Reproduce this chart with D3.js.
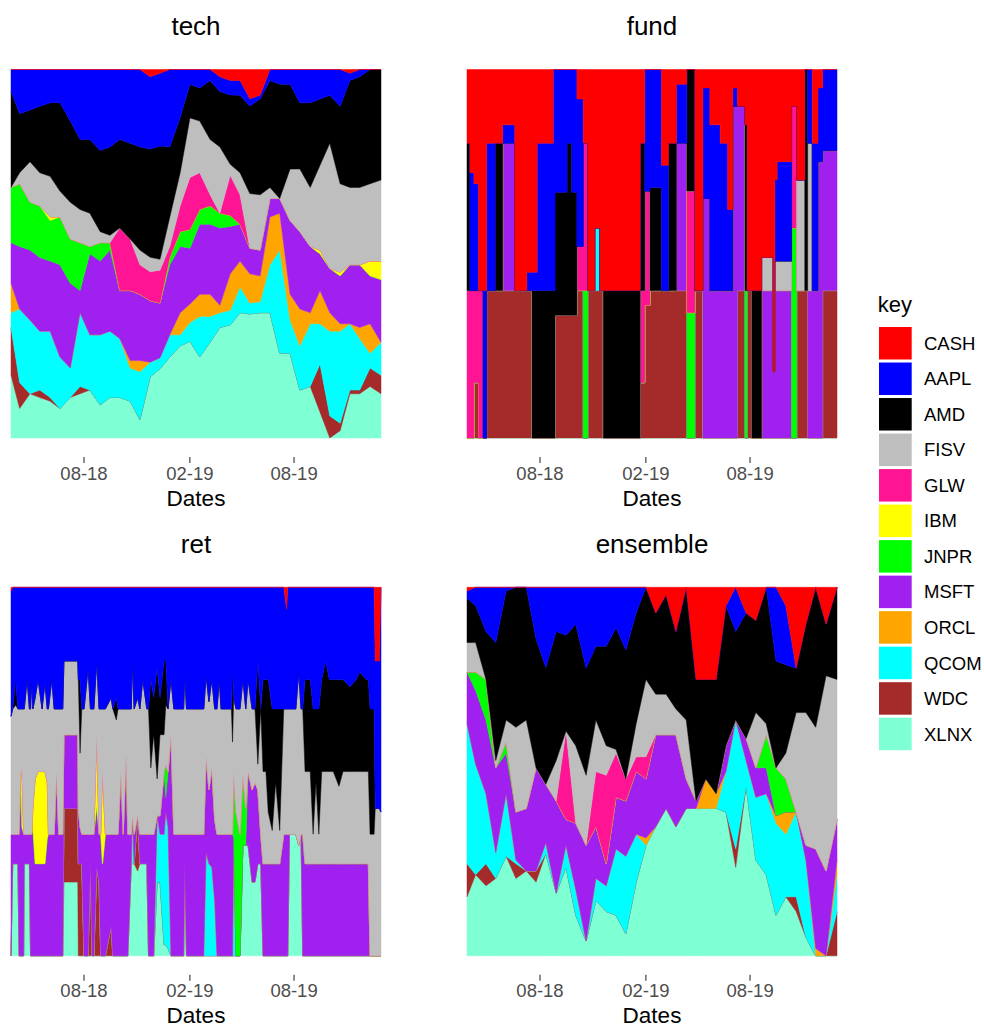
<!DOCTYPE html>
<html><head><meta charset="utf-8">
<script src="https://cdn.jsdelivr.net/npm/d3@7"></script>
<style>body{margin:0;background:#fff}</style>
</head><body><svg id="chart" width="984" height="1027"></svg>
<script>
const keys = ["CASH","AAPL","AMD","FISV","GLW","IBM","JNPR","MSFT","ORCL","QCOM","WDC","XLNX"];
const keyColors = ["#FF0000","#0000FF","#000000","#BEBEBE","#FF1493","#FFFF00","#00FF00","#A020F0","#FFA500","#00FFFF","#A52A2A","#7FFFD4"];
const tickDates = ["2018-08-01","2019-02-01","2019-08-01"];
const tickLabels = ["08-18","02-19","08-19"];
const dateDomain = ["2018-03-28","2019-12-31"];

// weights in %, column order = keys
const sampleDates = ["2018-03-28","2018-04-12","2018-04-30","2018-05-17","2018-06-04","2018-06-21","2018-07-09","2018-07-26","2018-08-12","2018-08-30","2018-09-16","2018-10-03","2018-10-21","2018-11-07","2018-11-25","2018-12-12","2018-12-29","2019-01-16","2019-02-02","2019-02-19","2019-03-09","2019-03-26","2019-04-13","2019-04-30","2019-05-17","2019-06-04","2019-06-21","2019-07-08","2019-07-26","2019-08-12","2019-08-30","2019-09-16","2019-10-03","2019-10-21","2019-11-07","2019-11-24","2019-12-12","2019-12-31"];

const techWeights = [
[0,6,26,0,0,0,15,11,8,4,13,17],
[0,12,16,3,0,0,17,17,0,20,7,8],
[0,11,14,11,0,0,13,19,0,20,0,12],
[0,10,18,9,0,0,14,20,0,16,2,11],
[0,9,20,11,0,1,11,19,0,18,1,10],
[0,9,24,7,0,0,13,25,0,14,0,8],
[0,14,22,10,0,0,12,23,0,8,0,11],
[0,19,19,9,0,0,13,6,0,20,2,12],
[0,19,20,9,0,0,2,22,0,15,0,13],
[0,22,22,3,0,0,5,20,0,19,0,9],
[0,21,24,2,0,0,2,22,0,18,0,11],
[0,19,24,0,17,0,0,13,0,16,0,11],
[0,20,26,0,14,0,0,19,2,9,0,10],
[0,21,28,4,8,0,0,18,3,13,0,5],
[2,20,30,4,8,0,0,17,0,4,0,17],
[1,20,31,3,9,0,0,15,0,3,0,19],
[0,21,19,8,3,0,2,19,0,6,0,22],
[0,13,15,9,7,0,4,18,6,3,0,25],
[0,4,9,16,14,0,5,15,5,5,0,26],
[0,5,9,14,10,0,4,19,6,11,0,22],
[0,3,16,15,3,0,5,19,6,7,0,26],
[2,4,15,18,0,0,4,21,2,4,0,30],
[3,4,19,3,11,0,3,13,10,4,0,31],
[3,4,21,6,8,0,0,10,7,7,0,34],
[8,2,24,15,0,0,0,7,8,3,0,34],
[7,1,26,15,0,0,0,7,7,3,0,34],
[0,3,29,3,0,0,0,5,13,13,0,34],
[0,4,31,0,0,0,0,4,10,28,0,23],
[0,4,23,14,0,0,0,20,7,9,0,23],
[0,9,18,17,0,0,0,21,10,12,0,13],
[0,9,23,16,0,0,0,18,3,17,0,14],
[0,8,18,23,0,1,0,10,9,11,13,7],
[0,7,13,34,0,0,0,12,5,23,6,0],
[0,10,21,24,0,1,0,13,2,25,2,2],
[1,2,29,21,0,0,0,16,0,18,1,12],
[0,2,30,21,0,0,0,17,3,14,1,12],
[0,0,31,21,0,4,0,13,8,4,5,14],
[0,0,30,22,0,5,0,17,0,9,5,12]
];

const ensembleWeights = [
[1,2,12,8,0,0,0,14,0,38,9,16],
[0,5,10,8,0,0,5,20,0,30,0,22],
[0,12,13,0,0,0,11,20,0,19,6,19],
[0,15,32,2,0,0,0,23,0,7,0,21],
[0,1,35,6,0,0,3,11,0,17,0,27],
[0,0,38,23,0,0,0,13,0,1,4,21],
[0,0,36,24,0,0,0,17,0,0,0,23],
[0,14,35,0,0,0,0,28,0,0,3,20],
[0,22,32,0,0,0,0,16,0,3,0,28],
[0,12,35,11,0,0,0,25,0,0,0,17],
[0,13,26,0,24,0,0,7,0,6,0,24],
[0,10,33,21,0,0,0,18,0,7,0,11],
[0,22,29,19,0,0,0,26,0,0,0,4],
[0,16,20,14,15,0,0,14,0,6,0,15],
[0,16,27,8,24,0,0,6,0,7,0,12],
[0,11,33,1,12,0,0,14,0,18,0,11],
[0,17,35,0,6,0,0,15,0,21,0,6],
[0,7,30,9,4,0,0,17,0,13,0,20],
[0,0,25,21,6,0,0,16,2,0,0,30],
[7,0,22,11,0,0,0,25,0,0,0,35],
[2,0,27,11,0,0,0,20,0,0,0,40],
[12,0,21,7,0,0,0,25,0,0,0,35],
[0,0,36,16,0,0,0,8,0,0,0,40],
[25,0,33,0,0,0,0,2,0,0,0,40],
[25,0,27,0,0,0,0,0,8,0,0,40],
[25,0,31,0,0,0,0,0,4,0,0,40],
[5,0,38,0,0,0,0,7,0,11,0,39],
[0,12,24,0,0,0,0,0,0,35,5,24],
[7,0,34,0,0,0,0,6,0,7,0,46],
[9,0,25,15,0,0,0,8,0,17,0,26],
[0,0,37,3,0,0,9,7,0,22,0,22],
[0,20,29,0,0,0,13,0,2,25,0,11],
[5,16,24,7,0,0,9,0,6,17,0,16],
[22,0,12,27,0,0,0,0,0,23,4,12],
[10,0,24,36,0,0,0,4,0,21,0,5],
[0,0,38,33,0,0,0,27,2,0,0,0],
[10,0,14,53,0,0,0,23,0,0,0,0],
[0,0,25,38,0,0,0,11,4,10,12,0]
];

const fundDates = ["2018-03-28","2018-04-02","2018-04-09","2018-04-17","2018-04-25","2018-05-01","2018-05-16","2018-05-29","2018-06-19","2018-07-10","2018-07-19","2018-07-28","2018-08-25","2018-08-28","2018-09-18","2018-09-26","2018-10-05","2018-10-16","2018-10-24","2018-11-05","2018-11-14","2018-11-20","2019-01-23","2019-01-31","2019-02-09","2019-03-01","2019-03-13","2019-03-27","2019-04-14","2019-04-28","2019-05-12","2019-05-24","2019-06-11","2019-06-24","2019-07-03","2019-07-11","2019-07-24","2019-07-28","2019-08-05","2019-08-22","2019-09-11","2019-09-14","2019-09-18","2019-10-13","2019-10-22","2019-11-05","2019-11-10","2019-11-18","2019-11-28","2019-12-06","2019-12-31"];
const fundWeights = [
[20,0,40,0,40,0,0,0,0,0,0,0],
[28,32,0,0,40,0,0,0,0,0,0,0],
[31,29,0,0,25,0,0,0,0,0,15,0],
[60,0,0,0,40,0,0,0,0,0,0,0],
[60,40,0,0,0,0,0,0,0,0,0,0],
[20,40,0,0,0,0,0,0,0,0,40,0],
[20,0,40,0,0,0,0,0,0,0,40,0],
[15,5,0,0,0,0,0,40,0,0,40,0],
[60,0,0,0,0,0,0,0,0,0,40,0],
[55,5,0,0,0,0,0,0,0,0,40,0],
[55,5,40,0,0,0,0,0,0,0,0,0],
[20,40,40,0,0,0,0,0,0,0,0,0],
[0,60,40,0,0,0,0,0,0,0,0,0],
[0,33.3,33.3,0,0,0,0,0,0,0,33.3,0],
[0,20,46.7,0,0,0,0,0,0,0,33.3,0],
[0,33.3,33.3,0,0,0,0,0,0,0,33.3,0],
[8,40,0,0,12,0,0,0,0,0,40,0],
[20,0,0,0,40,0,40,0,0,0,0,0],
[60,0,0,0,0,0,0,0,0,0,40,0],
[43,0,0,0,0,0,0,0,0,17,40,0],
[60,0,0,0,0,0,0,0,0,0,40,0],
[60,0,40,0,0,0,0,0,0,0,0,0],
[20,0,40,0,25,0,0,0,0,0,15,0],
[0,33,0,0,31,0,0,0,0,0,36,0],
[0,32,28,0,0,0,0,0,0,0,40,0],
[26,34,0,0,0,0,0,0,0,0,40,0],
[20,0,40,0,0,0,0,0,0,0,40,0],
[4,16,0,0,0,0,0,40,0,0,40,0],
[0,0,33,0,33,0,34,0,0,0,0,0],
[60,0,0,0,0,0,0,0,0,0,40,0],
[5,30,0,0,0,0,0,65,0,0,0,0],
[15,45,0,0,0,0,0,40,0,0,0,0],
[20,40,0,0,0,0,0,40,0,0,0,0],
[38,22,0,0,0,0,0,40,0,0,0,0],
[5,5,0,0,0,0,0,90,0,0,0,0],
[10,0,0,0,0,0,0,50,0,0,40,0],
[15,0,45,0,0,0,40,0,0,0,0,0],
[60,0,0,0,0,0,0,0,0,0,40,0],
[60,0,40,0,0,0,0,0,0,0,0,0],
[51,0,0,9,0,0,0,40,0,0,0,0],
[82,0,0,0,0,0,0,18,0,0,0,0],
[30,22,0,8,0,0,0,40,0,0,0,0],
[25,27,0,8,0,0,0,40,0,0,0,0],
[10,0,0,0,33,0,57,0,0,0,0,0],
[30,0,0,30,0,0,0,0,0,0,40,0],
[0,0,60,0,0,0,0,0,0,0,40,0],
[0,20,0,40,0,0,0,40,0,0,0,0],
[20,40,0,0,0,0,0,40,0,0,0,0],
[5,20,0,0,0,0,0,75,0,0,0,0],
[0,22,0,0,0,0,0,38,0,0,40,0],
[0,22,0,0,0,0,0,38,0,0,40,0]
];

// ret: days since 2018-03-28
const retStart = "2018-03-28";
const retDay = [0,3,8,12,14,17,19,22,23,28,32,34,36,38,42,47,54,59,63,65,71,75,79,83,90,92,116,117,120,123,127,134,138,141,144,149,153,156,159,164,174,177,183,186,191,195,200,203,209,211,214,220,224,229,236,239,243,248,254,259,266,269,273,278,283,300,302,305,335,339,344,349,354,358,362,365,383,385,387,391,398,403,408,412,419,424,429,434,438,443,447,454,460,467,474,479,481,484,495,500,504,507,511,520,525,530,535,540,547,553,560,570,577,589,600,606,617,621,624,631,633,640,643];
const retWeights = [
[1,34,0,32,0,0,0,33,0,0,0,0],
[0,33,0,34,0,0,0,8,0,0,0,25],
[0,25,7,35,0,0,0,8,0,0,0,25],
[0,33,0,34,0,0,0,8,0,0,0,25],
[0,33,0,34,0,0,0,33,0,0,0,0],
[0,33,0,17,0,0,0,50,0,0,0,0],
[0,33,0,17,0,15,0,35,0,0,0,0],
[0,33,0,34,0,0,0,33,0,0,0,0],
[0,33,0,34,0,0,0,8,0,0,0,25],
[0,25,0,42,0,0,0,8,0,0,0,25],
[0,33,0,34,0,0,0,8,0,0,0,25],
[0,33,0,34,0,0,0,33,0,0,0,0],
[0,25,0,42,0,0,0,33,0,0,0,0],
[0,33,0,27,0,5,0,35,0,0,0,0],
[0,30,0,22,0,23,0,25,0,0,0,0],
[0,25,0,25,0,25,0,25,0,0,0,0],
[0,33,0,17,0,25,0,25,0,0,0,0],
[0,26,0,24,0,25,0,25,0,0,0,0],
[0,33,0,20,0,15,0,32,0,0,0,0],
[0,33,0,34,0,0,0,33,0,0,0,0],
[0,25,0,42,0,0,0,33,0,0,0,0],
[0,33,0,34,0,0,0,33,0,0,0,0],
[0,33,0,17,0,0,0,50,0,0,0,0],
[0,33,0,34,0,0,0,33,0,0,0,0],
[0,33,0,34,0,0,0,33,0,0,0,0],
[0,20,0,20,0,0,0,20,0,0,20,20],
[0,20,0,20,0,0,0,20,0,0,20,20],
[0,25,0,35,0,0,0,15,0,0,25,0],
[0,25,20,20,0,0,0,10,0,0,25,0],
[0,33,0,34,0,0,0,8,0,0,25,0],
[0,33,0,34,0,0,0,33,0,0,0,0],
[0,22,0,45,0,0,0,33,0,0,0,0],
[0,33,0,34,0,0,0,8,0,0,25,0],
[0,33,0,34,0,0,0,33,0,0,0,0],
[0,33,0,34,0,0,0,33,0,0,0,0],
[0,20,0,20,0,19,0,17,0,0,24,0],
[0,33,0,34,0,0,0,13,0,0,20,0],
[0,33,0,34,0,0,0,33,0,0,0,0],
[0,33,0,17,0,25,0,25,0,0,0,0],
[0,33,0,34,0,0,0,33,0,0,0,0],
[0,30,0,37,0,0,0,25,0,0,8,0],
[0,33,0,34,0,0,0,33,0,0,0,0],
[0,30,6,31,0,0,0,33,0,0,0,0],
[0,33,0,34,0,0,0,33,0,0,0,0],
[0,33,0,17,0,0,0,50,0,0,0,0],
[0,33,0,34,0,0,0,33,0,0,0,0],
[0,33,0,12,0,0,0,55,0,0,0,0],
[0,33,0,34,0,0,0,33,0,0,0,0],
[0,33,0,34,0,0,0,8,0,0,0,25],
[0,20,0,42,0,0,0,0,0,13,0,25],
[0,33,0,34,0,0,0,8,0,0,0,25],
[0,30,0,32,0,0,0,0,0,0,15,23],
[0,33,0,34,0,0,0,8,0,0,0,25],
[0,25,0,42,0,0,0,8,0,0,0,25],
[0,33,0,34,0,0,0,8,0,0,0,25],
[0,33,0,34,0,0,0,33,0,0,0,0],
[0,25,24,18,0,0,0,33,0,0,0,0],
[0,30,10,27,0,0,0,33,0,0,0,0],
[0,22,30,10,0,0,0,0,0,18,0,20],
[0,30,10,22,0,0,0,5,0,13,0,20],
[0,20,20,10,0,0,0,17,0,30,0,3],
[0,20,12,16,0,0,9,4,0,36,0,3],
[0,33,0,17,0,0,0,15,0,33,0,2],
[0,25,0,15,0,0,0,60,0,0,0,0],
[0,33,0,34,0,0,0,33,0,0,0,0],
[0,33,0,34,0,0,0,33,0,0,0,0],
[0,24,0,43,0,0,0,8,0,0,0,25],
[0,33,0,34,0,0,0,33,0,0,0,0],
[0,33,0,34,0,0,0,33,0,0,0,0],
[0,24,0,22,0,0,0,26,0,28,0,0],
[0,31,0,24,0,0,0,20,0,25,0,0],
[0,25,0,24,0,0,0,27,0,24,0,0],
[0,33,0,30,0,0,0,22,0,15,0,0],
[0,33,0,34,0,0,0,33,0,0,0,0],
[0,25,0,42,0,0,0,33,0,0,0,0],
[0,33,0,34,0,0,0,33,0,0,0,0],
[0,33,0,34,0,0,0,33,0,0,0,0],
[0,22,20,25,0,0,0,33,0,0,0,0],
[0,30,0,20,0,0,18,0,0,32,0,0],
[0,33,0,28,0,0,39,0,0,0,0,0],
[0,33,0,34,0,0,33,0,0,0,0,0],
[0,25,0,26,0,0,19,0,0,0,0,30],
[0,33,0,27,0,0,10,0,0,0,0,30],
[0,25,0,25,0,0,0,20,0,0,0,30],
[0,33,0,22,0,0,0,25,0,0,0,20],
[0,33,0,20,0,0,0,27,0,0,0,20],
[0,20,28,7,0,0,0,20,0,0,0,25],
[0,33,0,34,0,0,0,8,0,0,0,25],
[0,25,25,25,0,0,0,25,0,0,0,0],
[0,25,25,25,0,0,0,25,0,0,0,0],
[0,25,36,14,0,0,0,25,0,0,0,0],
[0,33,33,9,0,0,0,25,0,0,0,0],
[0,33,20,22,0,0,0,25,0,0,0,0],
[0,33,33,9,0,0,0,25,0,0,0,0],
[0,33,0,34,0,0,0,33,0,0,0,0],
[6,27,0,34,0,0,0,33,0,0,0,0],
[0,33,0,34,0,0,0,33,0,0,0,0],
[0,33,0,34,0,0,0,0,0,0,0,33],
[0,33,0,34,0,0,0,0,0,0,0,33],
[0,23,0,47,0,0,0,0,0,0,0,30],
[0,33,0,34,0,0,0,0,0,0,0,33],
[0,33,0,34,0,0,0,33,0,0,0,0],
[0,25,25,25,0,0,0,25,0,0,0,0],
[0,25,25,25,0,0,0,25,0,0,0,0],
[0,33,34,8,0,0,0,25,0,0,0,0],
[0,33,20,22,0,0,0,25,0,0,0,0],
[0,33,34,8,0,0,0,25,0,0,0,0],
[0,25,25,25,0,0,0,25,0,0,0,0],
[0,20,30,25,0,0,0,25,0,0,0,0],
[0,25,25,25,0,0,0,25,0,0,0,0],
[0,25,25,25,0,0,0,25,0,0,0,0],
[0,25,29,21,0,0,0,25,0,0,0,0],
[0,25,25,25,0,0,0,25,0,0,0,0],
[0,27,23,25,0,0,0,25,0,0,0,0],
[0,25,25,25,0,0,0,25,0,0,0,0],
[0,23,27,25,0,0,0,25,0,0,0,0],
[0,25,25,25,0,0,0,25,0,0,0,0],
[0,25,25,25,0,0,0,25,0,0,0,0],
[0,33,34,33,0,0,0,0,0,0,0,0],
[0,33,34,33,0,0,0,0,0,0,0,0],
[20,40,0,40,0,0,0,0,0,0,0,0],
[20,40,0,40,0,0,0,0,0,0,0,0],
[0,61,0,39,0,0,0,0,0,0,0,0]
];

const parse = d3.utcParse("%Y-%m-%d");
const retDates = retDay.map(d => d3.utcDay.offset(parse(retStart), d));

const panels = [
  {title:"tech", dates:sampleDates.map(parse), weights:techWeights, curve:d3.curveLinear, left:11, top:69.5},
  {title:"fund", dates:fundDates.map(parse), weights:fundWeights, curve:d3.curveStepAfter, left:467, top:69.5},
  {title:"ret", dates:retDates, weights:retWeights, curve:d3.curveLinear, left:11, top:587.3},
  {title:"ensemble", dates:sampleDates.map(parse), weights:ensembleWeights, curve:d3.curveLinear, left:467, top:587.3}
];
const PW = 370, PH = 368.5;
const FONT = "'Liberation Sans', Arial, Helvetica, sans-serif";
const svg = d3.select("#chart");
const color = d3.scaleOrdinal().domain(keys).range(keyColors);

panels.forEach(p => {
  const x = d3.scaleUtc().domain(dateDomain.map(parse)).range([p.left, p.left + PW]);
  const y = d3.scaleLinear().domain([0, 1]).range([p.top + PH, p.top]);
  const rows = p.dates.map((d, i) => {
    const o = {date: d};
    keys.forEach((k, j) => o[k] = p.weights[i][j]);
    return o;
  });
  const series = d3.stack().keys(keys.slice().reverse()).offset(d3.stackOffsetExpand)(rows);
  const area = d3.area().x(d => x(d.data.date)).y0(d => y(d[0])).y1(d => y(d[1])).curve(p.curve);
  const g = svg.append("g");
  g.selectAll("path").data(series).join("path")
    .attr("d", area)
    .attr("fill", s => color(s.key))
    .attr("stroke", s => color(s.key))
    .attr("stroke-width", 0.5);

  const ax = svg.append("g").attr("transform", `translate(0,${p.top + PH + 19})`)
    .call(d3.axisBottom(x).tickValues(tickDates.map(parse)).tickFormat((d, i) => tickLabels[i]).tickSize(6).tickSizeOuter(0));
  ax.select(".domain").remove();
  ax.selectAll(".tick line").attr("stroke", "#333333").attr("stroke-width", 1.1);
  ax.selectAll(".tick text").attr("y", 22.5).attr("dy", null)
    .attr("fill", "#4D4D4D").style("font-family", FONT).style("font-size", "18.5px");

  svg.append("text").attr("x", p.left + PW / 2).attr("y", p.top + PH + 67.5)
    .attr("text-anchor", "middle").style("font-family", FONT).style("font-size", "22.5px")
    .attr("fill", "#000").text("Dates");
  svg.append("text").attr("x", p.left + PW / 2).attr("y", p.top - 34.3)
    .attr("text-anchor", "middle").style("font-family", FONT).style("font-size", "26px")
    .attr("fill", "#000").text(p.title);
});

const lg = svg.append("g");
lg.append("text").attr("x", 877.7).attr("y", 311.5).style("font-family", FONT).style("font-size", "22px").text("key");
keys.forEach((k, i) => {
  const ty = 327 + i * 35.52;
  lg.append("rect").attr("x", 879).attr("y", ty).attr("width", 32.7).attr("height", 32.5).attr("fill", color(k));
  lg.append("text").attr("x", 924).attr("y", ty + 16.25 + 6.6).style("font-family", FONT).style("font-size", "18.5px").attr("fill", "#000").text(k);
});
</script></body></html>
